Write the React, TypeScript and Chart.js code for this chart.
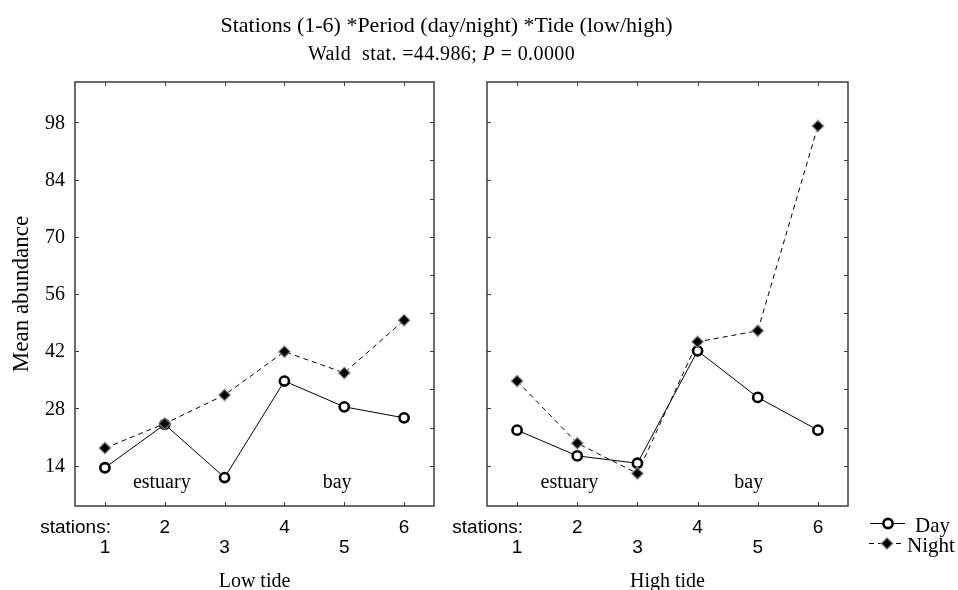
import React, { useEffect, useRef } from 'react';
import { Chart, registerables } from 'chart.js';

Chart.register(...registerables);

// ---------- data ----------
const stations = [1, 2, 3, 4, 5, 6];
const lowDay = [13.5, 24.1, 11.1, 34.7, 28.4, 25.7];
const lowNight = [18.3, 24.3, 31.3, 41.9, 36.7, 49.6];
const highDay = [22.7, 16.4, 14.6, 42.1, 30.7, 22.7];
const highNight = [34.7, 19.5, 12.1, 44.3, 47.0, 97.1];
const yTickValues = [14, 28, 42, 56, 70, 84, 98];
const rightTickValues = [14, 23.33, 32.67, 42, 51.33, 60.67, 70, 79.33, 88.67, 98];
const panelLabels = ['Low tide', 'High tide'];
const seriesNames = ['Day', 'Night'];
const regionLabels = ['estuary', 'bay'];
const titleText = 'Stations (1-6) *Period (day/night) *Tide (low/high)';
const subtitleParts = ['Wald  stat. =44.986; ', 'P', ' = 0.0000'];
const yAxisTitle = 'Mean abundance';
const stationsWord = 'stations:';

const Y_MIN = 4.14;
const Y_MAX = 107.86;
const W = 958;
const H = 590;

const SERIF = '"Liberation Serif", "Times New Roman", serif';
const SANS = '"Liberation Sans", Arial, sans-serif';

const panelPlugin = {
  id: 'panelDecor',
  beforeDatasetsDraw(chart: any, _args: any, opts: any) {
    const { ctx, chartArea: a, scales } = chart;
    const xs = scales.x;
    const ys = scales.y;
    const panel = opts.panel as number;
    ctx.save();
    // frame
    ctx.strokeStyle = '#3c3c3c';
    ctx.lineWidth = 1.5;
    ctx.strokeRect(a.left, a.top, a.right - a.left, a.bottom - a.top);
    // inner ticks
    ctx.lineWidth = 1;
    const tl = 4;
    ctx.beginPath();
    stations.forEach((s) => {
      const px = Math.round(xs.getPixelForValue(s)) + 0.5;
      ctx.moveTo(px, a.bottom);
      ctx.lineTo(px, a.bottom - tl);
      ctx.moveTo(px, a.top);
      ctx.lineTo(px, a.top + tl);
    });
    yTickValues.forEach((v) => {
      const py = Math.round(ys.getPixelForValue(v)) + 0.5;
      ctx.moveTo(a.left, py);
      ctx.lineTo(a.left + tl, py);
    });
    rightTickValues.forEach((v) => {
      const py = Math.round(ys.getPixelForValue(v)) + 0.5;
      ctx.moveTo(a.right, py);
      ctx.lineTo(a.right - tl, py);
    });
    ctx.stroke();

    ctx.fillStyle = '#000';
    // region labels inside plot
    ctx.font = `20px ${SERIF}`;
    ctx.textAlign = 'center';
    ctx.textBaseline = 'alphabetic';
    const regionX = panel === 0 ? [1.95, 4.88] : [1.87, 4.85];
    ctx.fillText(regionLabels[0], xs.getPixelForValue(regionX[0]), a.bottom - 18);
    ctx.fillText(regionLabels[1], xs.getPixelForValue(regionX[1]), a.bottom - 18);

    // x tick labels (staggered)
    ctx.font = `19px ${SANS}`;
    stations.forEach((s) => {
      const px = xs.getPixelForValue(s);
      const by = s % 2 === 0 ? a.bottom + 27.3 : a.bottom + 46.7;
      ctx.textAlign = 'center';
      ctx.fillText(String(s), px, by);
    });
    ctx.textAlign = 'right';
    ctx.fillText(stationsWord, xs.getPixelForValue(1) + 6, a.bottom + 27.3);

    // panel label
    ctx.font = `20px ${SERIF}`;
    ctx.textAlign = 'center';
    ctx.fillText(panelLabels[panel], (a.left + a.right) / 2, a.bottom + 80.7);

    if (panel === 0) {
      // y tick labels
      ctx.font = `20px ${SERIF}`;
      ctx.textAlign = 'right';
      ctx.textBaseline = 'middle';
      yTickValues.forEach((v) => {
        ctx.fillText(String(v), a.left - 10, ys.getPixelForValue(v) + 1);
      });
      // y axis title
      ctx.save();
      ctx.translate(22, (a.top + a.bottom) / 2);
      ctx.rotate(-Math.PI / 2);
      ctx.font = `23px ${SERIF}`;
      ctx.textAlign = 'center';
      ctx.textBaseline = 'middle';
      ctx.fillText(yAxisTitle, 0, 0);
      ctx.restore();
      // title
      ctx.textBaseline = 'alphabetic';
      ctx.textAlign = 'center';
      ctx.font = `22px ${SERIF}`;
      ctx.fillText(titleText, 446.5, 32);
      // subtitle with italic P
      (ctx as any).letterSpacing = '0.4px';
      const fN = `20px ${SERIF}`;
      const fI = `italic 20px ${SERIF}`;
      ctx.font = fN;
      const w0 = ctx.measureText(subtitleParts[0]).width;
      const w2 = ctx.measureText(subtitleParts[2]).width;
      ctx.font = fI;
      const w1 = ctx.measureText(subtitleParts[1]).width;
      const total = w0 + w1 + w2;
      let sx = 441.5 - total / 2;
      ctx.textAlign = 'left';
      ctx.font = fN;
      ctx.fillText(subtitleParts[0], sx, 60);
      sx += w0;
      ctx.font = fI;
      ctx.fillText(subtitleParts[1], sx, 60);
      sx += w1;
      ctx.font = fN;
      ctx.fillText(subtitleParts[2], sx, 60);
      (ctx as any).letterSpacing = '0px';
    } else {
      // legend
      const dsDay = chart.data.datasets.find((d: any) => d.label === seriesNames[0]);
      const dsNight = chart.data.datasets.find((d: any) => d.label === seriesNames[1]);
      ctx.strokeStyle = '#000';
      ctx.lineWidth = 1;
      ctx.setLineDash([]);
      ctx.beginPath();
      ctx.moveTo(870, 523.5);
      ctx.lineTo(905, 523.5);
      ctx.stroke();
      ctx.beginPath();
      ctx.arc(888, 523.5, dsDay.pointRadius, 0, Math.PI * 2);
      ctx.fillStyle = dsDay.pointBackgroundColor;
      ctx.fill();
      ctx.lineWidth = dsDay.pointBorderWidth;
      ctx.strokeStyle = dsDay.pointBorderColor;
      ctx.stroke();

      ctx.lineWidth = 1;
      ctx.strokeStyle = '#000';
      ctx.setLineDash(dsNight.borderDash);
      ctx.beginPath();
      ctx.moveTo(869, 543.5);
      ctx.lineTo(903, 543.5);
      ctx.stroke();
      ctx.setLineDash([]);
      const r = dsNight.pointRadius;
      ctx.beginPath();
      ctx.moveTo(887 - r, 543.5);
      ctx.lineTo(887, 543.5 - r);
      ctx.lineTo(887 + r, 543.5);
      ctx.lineTo(887, 543.5 + r);
      ctx.closePath();
      ctx.fillStyle = dsNight.pointBackgroundColor;
      ctx.fill();
      ctx.lineWidth = dsNight.pointBorderWidth;
      ctx.strokeStyle = dsNight.pointBorderColor;
      ctx.stroke();

      ctx.fillStyle = '#000';
      ctx.font = `21px ${SERIF}`;
      ctx.textAlign = 'left';
      ctx.textBaseline = 'alphabetic';
      ctx.fillText(seriesNames[0], 915, 531.7);
      ctx.fillText(seriesNames[1], 907, 551.7);
    }
    ctx.restore();
  },
};

function makeConfig(dayVals: number[], nightVals: number[], panel: number, padding: any): any {
  return {
    type: 'line',
    data: {
      datasets: [
        {
          label: seriesNames[1],
          data: stations.map((s, i) => ({ x: s, y: nightVals[i] })),
          borderColor: '#000',
          borderWidth: 1,
          borderDash: [5, 4],
          pointStyle: 'rectRot',
          pointRadius: 6,
          pointBackgroundColor: '#000',
          pointBorderColor: 'rgba(190,190,190,0.5)',
          pointBorderWidth: 2,
          order: 0,
        },
        {
          label: seriesNames[0],
          data: stations.map((s, i) => ({ x: s, y: dayVals[i] })),
          borderColor: '#000',
          borderWidth: 1,
          pointStyle: 'circle',
          pointRadius: 4.6,
          pointBackgroundColor: '#fff',
          pointBorderColor: '#000',
          pointBorderWidth: 2.6,
          order: 1,
        },
      ],
    },
    options: {
      animation: false,
      responsive: false,
      devicePixelRatio: 1,
      clip: false,
      layout: { padding },
      scales: {
        x: { type: 'linear', min: 0.5, max: 6.5, display: false },
        y: { type: 'linear', min: Y_MIN, max: Y_MAX, display: false },
      },
      plugins: {
        legend: { display: false },
        tooltip: { enabled: false },
        panelDecor: { panel },
      },
    },
    plugins: [panelPlugin],
  };
}

function Panel({ dayVals, nightVals, panel, padding }: any) {
  const ref = useRef<HTMLCanvasElement>(null);
  useEffect(() => {
    if (!ref.current) return;
    const chart = new Chart(ref.current, makeConfig(dayVals, nightVals, panel, padding));
    return () => chart.destroy();
  }, []);
  return (
    <canvas
      ref={ref}
      width={W}
      height={H}
      style={{ position: 'absolute', left: 0, top: 0, width: W, height: H }}
    />
  );
}

export default function App() {
  return (
    <div style={{ position: 'fixed', left: 0, top: 0, width: W, height: H, background: '#fff', overflow: 'hidden' }}>
      <Panel dayVals={lowDay} nightVals={lowNight} panel={0} padding={{ left: 75, right: W - 434, top: 82, bottom: H - 506 }} />
      <Panel dayVals={highDay} nightVals={highNight} panel={1} padding={{ left: 487, right: W - 848, top: 82, bottom: H - 506 }} />
    </div>
  );
}
